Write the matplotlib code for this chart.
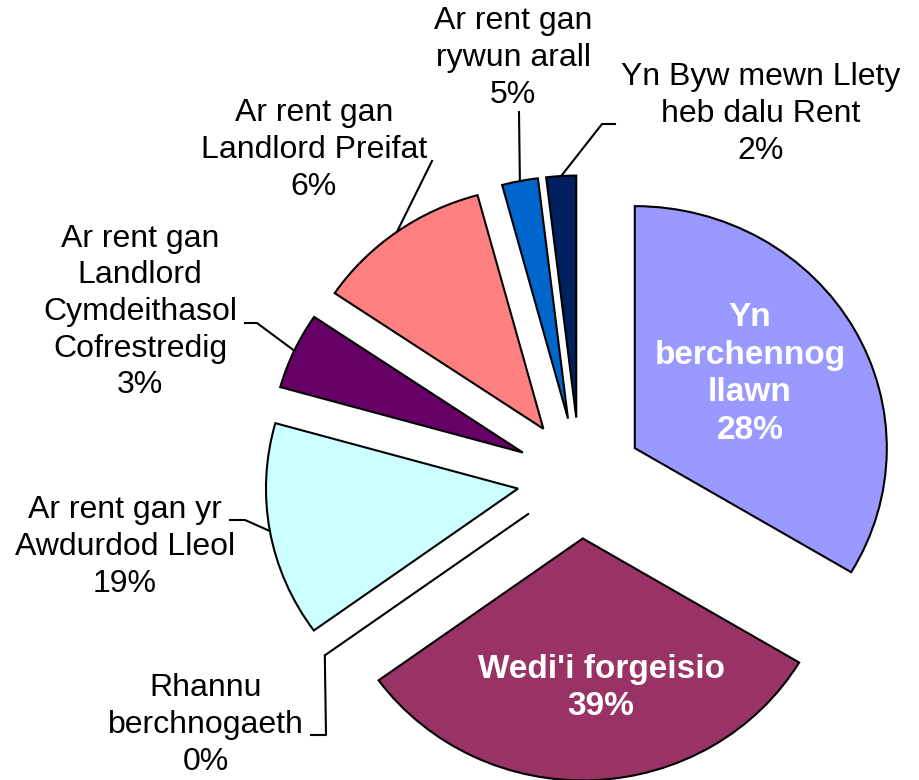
import numpy as np
import matplotlib
matplotlib.use("Agg")
import matplotlib.pyplot as plt

plt.rcParams["font.family"] = ["Liberation Sans", "DejaVu Sans"]

# slices, clockwise from 12 o'clock
categories = [
    "Yn berchennog llawn",
    "Wedi'i forgeisio",
    "Rhannu berchnogaeth",
    "Ar rent gan yr Awdurdod Lleol",
    "Ar rent gan Landlord Cymdeithasol Cofrestredig",
    "Ar rent gan Landlord Preifat",
    "Ar rent gan rywun arall",
    "Yn Byw mewn Llety heb dalu Rent",
]
label_text = [
    "Yn\nberchennog\nllawn",
    "Wedi'i forgeisio",
    "Rhannu\nberchnogaeth",
    "Ar rent gan yr\nAwdurdod Lleol",
    "Ar rent gan\nLandlord\nCymdeithasol\nCofrestredig",
    "Ar rent gan\nLandlord Preifat",
    "Ar rent gan\nrywun arall",
    "Yn Byw mewn Llety\nheb dalu Rent",
]
# slice sizes as drawn in the source (angles), in %
shares = [33.5, 31.4, 0.0, 14.3, 5.1, 11.3, 2.3, 1.9]
# percentages as printed on the source chart
pct_text = ["28%", "39%", "0%", "19%", "3%", "6%", "5%", "2%"]

colors = ["#9999FF", "#993366", "#FFFFCC", "#CCFFFF",
          "#660066", "#FF8080", "#0066CC", "#002060"]

W, H = 919, 780
CX, CY = 580, 478      # pie centre in pixels (from top-left)
RX, RY = 252, 242      # pixels per radius unit


def px(x, y):
    return (x - CX) / RX, (CY - y) / RY


fig = plt.figure(figsize=(W / 100, H / 100), dpi=100)
ax = fig.add_axes([0, 0, 1, 1])

wedges, _ = ax.pie(shares, explode=[0.25] * len(shares), startangle=90,
                   counterclock=False, colors=colors, radius=1,
                   wedgeprops=dict(edgecolor="black", linewidth=1.5))
ax.set_aspect("auto")
ax.set_xlim(-CX / RX, (W - CX) / RX)
ax.set_ylim(-(H - CY) / RY, CY / RY)
ax.axis("off")

# label centre + leader elbow points (pixels); inside labels have no leader
layout = {
    0: ((750, 374), []),
    1: ((601, 688), []),
    2: ((206, 725), [(326, 735), (311, 735)]),
    3: ((125, 547), [(245, 520), (230, 520)]),
    4: ((140, 312), [(257, 323), (245, 323)]),
    5: ((314, 150), [(432, 161)]),
    6: ((513, 58), [(519, 112)]),
    7: ((761, 114), [(602, 124), (615, 124)]),
}

for i, w in enumerate(wedges):
    (tx, ty), elbows = layout[i]
    txt = label_text[i] + "\n" + pct_text[i]
    if i < 2:
        ax.text(*px(tx, ty), txt, ha="center", va="center", fontsize=24,
                fontweight="bold", color="white", linespacing=1.28)
        continue
    ax.text(*px(tx, ty), txt, ha="center", va="center", fontsize=23,
            color="black", linespacing=1.29)
    mid = np.deg2rad((w.theta1 + w.theta2) / 2)
    x0 = w.center[0] + w.r * np.cos(mid)
    y0 = w.center[1] + w.r * np.sin(mid)
    xs = [x0] + [px(*p)[0] for p in elbows]
    ys = [y0] + [px(*p)[1] for p in elbows]
    ax.plot(xs, ys, color="black", linewidth=1.5)

fig.savefig("out.png", dpi=100)
